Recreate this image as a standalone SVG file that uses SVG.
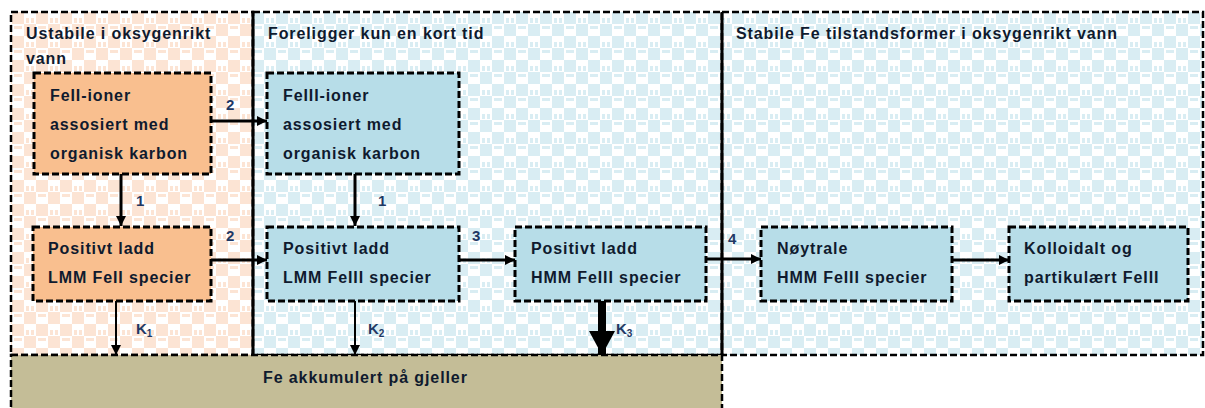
<svg xmlns="http://www.w3.org/2000/svg" width="1205" height="408" viewBox="0 0 1205 408">
  <defs>
    <pattern id="pPeach" width="24" height="24" patternUnits="userSpaceOnUse">
      <rect width="24" height="24" fill="#FFFFFF"/>
      <rect x="0" y="0" width="12" height="12" fill="#FCE4D4"/>
      <rect x="12" y="12" width="12" height="12" fill="#FCE4D4"/>
      <rect x="14" y="2" width="8" height="3" fill="#FCE4D4"/>
      <rect x="2" y="18" width="3" height="5" fill="#FCE4D4"/>
      <rect x="7" y="18" width="3" height="5" fill="#FCE4D4"/>
    </pattern>
    <pattern id="pBlue" width="24" height="24" patternUnits="userSpaceOnUse">
      <rect width="24" height="24" fill="#FFFFFF"/>
      <rect x="0" y="0" width="12" height="12" fill="#D9EDF3"/>
      <rect x="12" y="12" width="12" height="12" fill="#D9EDF3"/>
      <rect x="14" y="2" width="8" height="3" fill="#D9EDF3"/>
      <rect x="2" y="18" width="3" height="5" fill="#D9EDF3"/>
      <rect x="7" y="18" width="3" height="5" fill="#D9EDF3"/>
    </pattern>
    <marker id="arr" markerUnits="userSpaceOnUse" markerWidth="10" markerHeight="10" refX="10" refY="5" orient="auto">
      <path d="M0,0 L10,5 L0,10 z" fill="#000"/>
    </marker>
    <marker id="arrBig" markerUnits="userSpaceOnUse" markerWidth="24" markerHeight="26" refX="24" refY="13" orient="auto">
      <path d="M0,0 L24,13 L0,26 z" fill="#000"/>
    </marker>
  </defs>
  <style>
    .panel { stroke: #000; stroke-width: 2.5; stroke-dasharray: 7 3; }
    .node { stroke: #000; stroke-width: 3; stroke-dasharray: 7 3; }
    .orange { fill: #F9BF8F; }
    .blue { fill: #B7DDE8; }
    text { font-family: "Liberation Sans", Arial, sans-serif; font-weight: bold; font-size: 16px; letter-spacing: 0.9px; fill: #0F1A2E; }
    .lbl { fill: #1F3864; font-size: 15px; letter-spacing: 0; }
    .conn { stroke: #000; stroke-width: 3; fill: none; }
    .thin { stroke: #000; stroke-width: 2; fill: none; }
  </style>

  <rect width="1205" height="408" fill="#FFFFFF"/>

  <g id="panels">
    <rect x="11" y="12" width="242" height="343" fill="url(#pPeach)" class="panel"/>
    <rect x="253" y="12" width="469" height="343" fill="url(#pBlue)" class="panel"/>
    <rect x="722" y="12" width="481" height="343" fill="url(#pBlue)" class="panel"/>
    <rect x="11" y="355" width="711" height="60" fill="#C4BD97" class="panel"/>
    <line x1="253" y1="12" x2="253" y2="355" stroke="#000" stroke-width="3"/>
    <line x1="722" y1="12" x2="722" y2="355" stroke="#000" stroke-width="3"/>
    <text x="26" y="39">Ustabile i oksygenrikt</text>
    <text x="26" y="64">vann</text>
    <text x="268" y="39">Foreligger kun en kort tid</text>
    <text x="736" y="39">Stabile Fe tilstandsformer i oksygenrikt vann</text>
  </g>

  <g id="bar">
    <text x="263" y="383">Fe akkumulert på gjeller</text>
  </g>

  <g id="connectors">
    <line class="conn" x1="121" y1="174" x2="121" y2="226" marker-end="url(#arr)"/>
    <line class="conn" x1="211" y1="121" x2="267" y2="121" marker-end="url(#arr)"/>
    <line class="conn" x1="211" y1="260" x2="267" y2="260" marker-end="url(#arr)"/>
    <line class="conn" x1="355" y1="174" x2="355" y2="226" marker-end="url(#arr)"/>
    <line class="conn" x1="459" y1="260" x2="515" y2="260" marker-end="url(#arr)"/>
    <line class="conn" x1="706" y1="259" x2="761" y2="259" marker-end="url(#arr)"/>
    <line class="conn" x1="952" y1="260" x2="1009" y2="260" marker-end="url(#arr)"/>
    <line class="thin" x1="116" y1="301" x2="116" y2="355" marker-end="url(#arr)"/>
    <line class="thin" x1="355" y1="301" x2="355" y2="355" marker-end="url(#arr)"/>
    <line x1="602" y1="301" x2="602" y2="355" stroke="#000" stroke-width="8" marker-end="url(#arrBig)"/>
    <text class="lbl" x="136" y="206">1</text>
    <text class="lbl" x="226" y="110">2</text>
    <text class="lbl" x="226" y="241">2</text>
    <text class="lbl" x="378" y="206">1</text>
    <text class="lbl" x="472" y="241">3</text>
    <text class="lbl" x="728" y="244">4</text>
    <text class="lbl" x="136" y="334">K<tspan font-size="10" dy="3">1</tspan></text>
    <text class="lbl" x="368" y="334">K<tspan font-size="10" dy="3">2</tspan></text>
    <text class="lbl" x="616" y="334">K<tspan font-size="10" dy="3">3</tspan></text>
  </g>

  <g id="n-feii-ioner">
    <rect x="34" y="73" width="177" height="101" class="node orange"/>
    <text x="50" y="101">FeII-ioner</text>
    <text x="50" y="130">assosiert med</text>
    <text x="50" y="159">organisk karbon</text>
  </g>
  <g id="n-lmm-feii">
    <rect x="33" y="227" width="178" height="74" class="node orange"/>
    <text x="48" y="254">Positivt ladd</text>
    <text x="48" y="283">LMM FeII specier</text>
  </g>
  <g id="n-feiii-ioner">
    <rect x="267" y="73" width="192" height="101" class="node blue"/>
    <text x="283" y="101">FeIII-ioner</text>
    <text x="283" y="130">assosiert med</text>
    <text x="283" y="159">organisk karbon</text>
  </g>
  <g id="n-lmm-feiii">
    <rect x="267" y="227" width="192" height="74" class="node blue"/>
    <text x="283" y="254">Positivt ladd</text>
    <text x="283" y="283">LMM FeIII specier</text>
  </g>
  <g id="n-hmm-feiii">
    <rect x="515" y="227" width="191" height="74" class="node blue"/>
    <text x="531" y="254">Positivt ladd</text>
    <text x="531" y="283">HMM FeIII specier</text>
  </g>
  <g id="n-noytrale">
    <rect x="761" y="227" width="191" height="74" class="node blue"/>
    <text x="777" y="254">Nøytrale</text>
    <text x="777" y="283">HMM FeIII specier</text>
  </g>
  <g id="n-kolloidalt">
    <rect x="1009" y="227" width="179" height="74" class="node blue"/>
    <text x="1024" y="254">Kolloidalt og</text>
    <text x="1024" y="283">partikulært FeIII</text>
  </g>
</svg>
